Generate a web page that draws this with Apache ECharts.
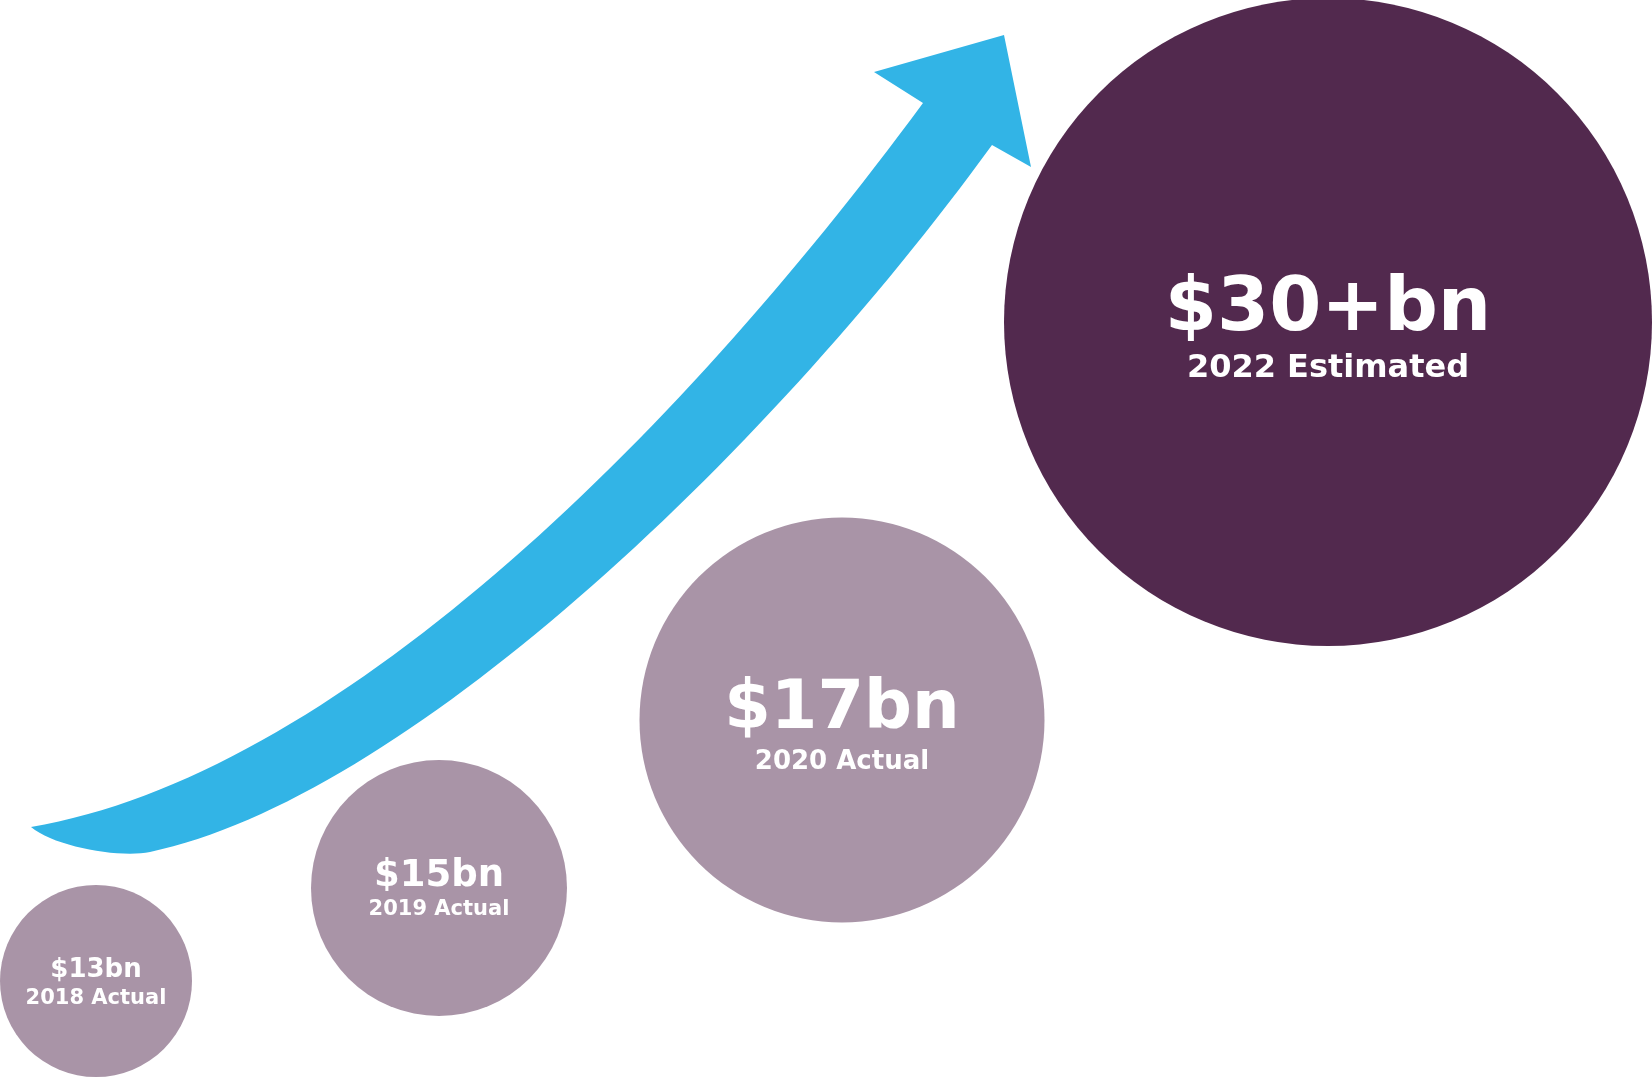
<!DOCTYPE html>
<html>
<head>
<meta charset="utf-8">
<script src="https://cdn.jsdelivr.net/npm/echarts@6/dist/echarts.min.js"></script>
<style>
html,body{margin:0;padding:0;background:#ffffff;}
#chart{width:1652px;height:1077px;}
</style>
</head>
<body>
<div id="chart"></div>
<script>
// ---- data ----
const years = ['2018', '2019', '2020', '2022'];
const values = [13, 15, 17, 30];
const valueLabels = ['$13bn', '$15bn', '$17bn', '$30+bn'];
const periodLabels = ['2018 Actual', '2019 Actual', '2020 Actual', '2022 Estimated'];

// ---- layout (page units of the hidden layout axes) ----
const bubbleX = [96, 439, 842, 1328];
const bubbleY = [981, 888, 720, 322];
const bubbleDiameter = [192, 256, 405, 648];
const bubbleColor = ['#A994A7', '#A994A7', '#A994A7', '#52294E'];
const valueFont = [26, 37, 67, 75];
const periodFont = [21, 21, 26, 32];
const valueOffsetY = [-11, -12, -9, -11];
const periodOffsetY = [18, 22, 42, 47];

// decorative growth arrow outline (cubic Bezier control points, layout units)
const arrowUpper = [[31,827],[331,777],[673,443],[923,103]];
const arrowHead = [[874,72],[1004,35],[1031,167],[992,145]];
const arrowLowerMain = [[992,145],[762,462],[400,800],[150,852]];
const arrowLowerTail = [[150,852],[120,858.2],[55,847],[31,827]];

function f(n){ return n.toFixed(2); }
function pt(p){ return f(p[0]) + ' ' + f(p[1]); }

const chart = echarts.init(document.getElementById('chart'), null, {renderer: 'canvas'});

const bubbleData = years.map((y, i) => ({
  name: y,
  value: [bubbleX[i], bubbleY[i], values[i]],
  symbolSize: bubbleDiameter[i],
  itemStyle: {color: bubbleColor[i], opacity: 1},
  label: {formatter: valueLabels[i], fontSize: valueFont[i], offset: [0, valueOffsetY[i]]}
}));
const periodData = years.map((y, i) => ({
  name: y,
  value: [bubbleX[i], bubbleY[i], values[i]],
  label: {formatter: periodLabels[i], fontSize: periodFont[i], offset: [0, periodOffsetY[i]]}
}));

const labelBase = {
  show: true, position: 'inside', color: '#ffffff', opacity: 1,
  fontFamily: 'DejaVu Sans', fontWeight: 'bold'
};

chart.setOption({
  animation: false,
  backgroundColor: '#ffffff',
  grid: {left: 0, right: 0, top: 0, bottom: 0},
  xAxis: {type: 'value', min: 0, max: 1652, show: false},
  yAxis: {type: 'value', min: 0, max: 1077, inverse: true, show: false},
  series: [
    {
      type: 'custom',
      silent: true,
      clip: false,
      data: [[0, 0]],
      renderItem: function (params, api) {
        const px = p => api.coord(p);
        const up = arrowUpper.map(px);
        const head = arrowHead.map(px);
        const lm = arrowLowerMain.map(px);
        const lt = arrowLowerTail.map(px);
        let d = 'M ' + pt(up[0]) + ' C ' + pt(up[1]) + ' ' + pt(up[2]) + ' ' + pt(up[3]);
        head.forEach(p => { d += ' L ' + pt(p); });
        d += ' C ' + pt(lm[1]) + ' ' + pt(lm[2]) + ' ' + pt(lm[3]);
        d += ' C ' + pt(lt[1]) + ' ' + pt(lt[2]) + ' ' + pt(lt[3]) + ' Z';
        return {type: 'path', shape: {pathData: d}, style: {fill: '#32B4E6'}};
      }
    },
    {
      type: 'scatter',
      silent: true,
      symbol: 'circle',
      data: bubbleData,
      itemStyle: {opacity: 1},
      label: labelBase,
      emphasis: {disabled: true}
    },
    {
      type: 'scatter',
      silent: true,
      symbol: 'circle',
      symbolSize: 1,
      itemStyle: {color: 'rgba(0,0,0,0)', opacity: 1},
      data: periodData,
      label: labelBase,
      emphasis: {disabled: true}
    }
  ]
});
</script>
</body>
</html>
